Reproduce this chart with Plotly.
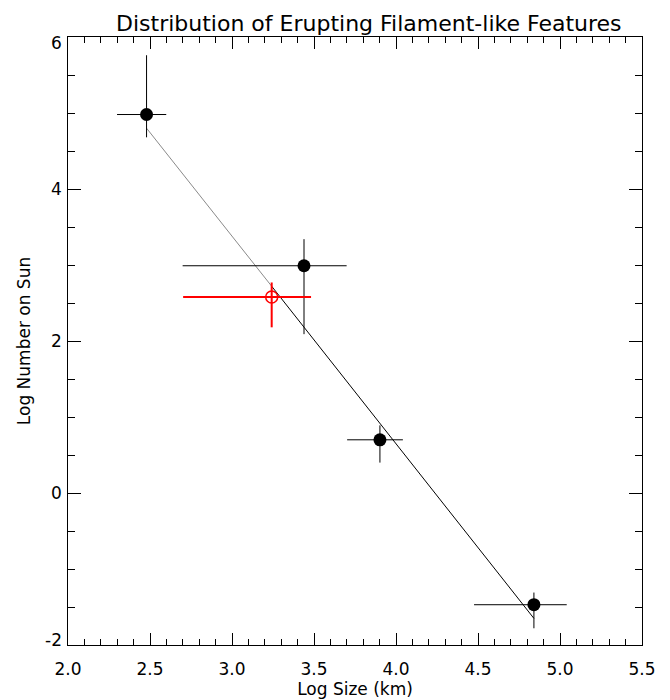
import plotly.graph_objects as go

# Data (log values)
size_x = [2.479, 3.439, 3.902, 4.841]
number_y = [4.98, 2.99, 0.70, -1.47]
xerr_plus = [0.12, 0.26, 0.14, 0.20]
xerr_minus = [0.18, 0.74, 0.20, 0.365]
yerr_plus = [0.78, 0.35, 0.19, 0.16]
yerr_minus = [0.30, 0.90, 0.30, 0.31]

red_x = [3.242]
red_y = [2.58]
red_xerr_plus = [0.24]
red_xerr_minus = [0.54]
red_yerr_plus = [0.19]
red_yerr_minus = [0.40]

fit_gray_x = [2.479, 3.242]
fit_gray_y = [4.80, 2.72]
fit_black_x = [3.242, 4.841]
fit_black_y = [2.72, -1.65]

x_ticks = [2.0, 2.5, 3.0, 3.5, 4.0, 4.5, 5.0, 5.5]
x_tick_labels = ["2.0", "2.5", "3.0", "3.5", "4.0", "4.5", "5.0", "5.5"]
y_ticks = [-2, 0, 2, 4, 6]
y_tick_labels = ["-2", "0", "2", "4", "6"]

FONT = "DejaVu Sans, Liberation Sans, Arial, sans-serif"

fig = go.Figure()

fig.add_trace(go.Scatter(x=fit_gray_x, y=fit_gray_y, mode="lines",
                         line=dict(color="#8a8a8a", width=1), hoverinfo="skip", showlegend=False))
fig.add_trace(go.Scatter(x=fit_black_x, y=fit_black_y, mode="lines",
                         line=dict(color="black", width=1), hoverinfo="skip", showlegend=False))

fig.add_trace(go.Scatter(
    x=size_x, y=number_y, mode="markers",
    marker=dict(color="black", size=13, line=dict(width=0)),
    error_x=dict(type="data", symmetric=False, array=xerr_plus, arrayminus=xerr_minus,
                 color="black", thickness=1, width=0),
    error_y=dict(type="data", symmetric=False, array=yerr_plus, arrayminus=yerr_minus,
                 color="black", thickness=1, width=0),
    showlegend=False))

fig.add_trace(go.Scatter(
    x=red_x, y=red_y, mode="markers",
    marker=dict(symbol="circle-open", color="red", size=12, line=dict(width=1.5, color="red")),
    error_x=dict(type="data", symmetric=False, array=red_xerr_plus, arrayminus=red_xerr_minus,
                 color="red", thickness=2, width=0),
    error_y=dict(type="data", symmetric=False, array=red_yerr_plus, arrayminus=red_yerr_minus,
                 color="red", thickness=2, width=0),
    showlegend=False))

# y tick labels as text, end labels nudged inward like the reference
annotations = []
for v, lab in zip(y_ticks, y_tick_labels):
    shift = 0
    if v == max(y_ticks):
        shift = -6
    elif v == min(y_ticks):
        shift = 5
    annotations.append(dict(x=0, xref="paper", y=v, yref="y", text=lab, showarrow=False,
                            xanchor="right", yanchor="middle", xshift=-4, yshift=shift,
                            font=dict(family=FONT, size=17, color="black")))

# title as a paper-anchored annotation just above the frame
annotations.append(dict(x=0.525, xref="paper", y=1, yref="paper", yshift=0, borderpad=0,
                        text="Distribution of Erupting Filament-like Features",
                        showarrow=False, xanchor="center", yanchor="bottom",
                        font=dict(family=FONT, size=22, color="black")))

# the page body adds an 8px margin, so the figure is 662x692 and margins are shifted
fig.update_layout(
    width=662, height=692,
    margin=dict(l=60, r=28, t=29, b=55, autoexpand=False),
    paper_bgcolor="white", plot_bgcolor="white",
    font=dict(family=FONT, color="black", size=17),
    annotations=annotations,
    xaxis=dict(range=[2.0, 5.5], tickvals=x_ticks, ticktext=x_tick_labels, automargin=False,
               ticks="inside", ticklen=12, tickwidth=1, tickcolor="black", ticklabelstandoff=9,
               minor=dict(dtick=0.1, tick0=2.0, ticks="inside", ticklen=6, tickwidth=1, tickcolor="black"),
               showline=True, linecolor="black", linewidth=1, mirror="allticks",
               showgrid=False, zeroline=False,
               tickfont=dict(family=FONT, size=17, color="black"),
               title=dict(text="Log Size (km)", standoff=0, font=dict(family=FONT, size=17, color="black"))),
    yaxis=dict(range=[-2, 6], tickvals=y_ticks, showticklabels=False, automargin=False,
               ticks="inside", ticklen=13, tickwidth=1, tickcolor="black",
               minor=dict(dtick=0.5, tick0=0, ticks="inside", ticklen=7, tickwidth=1, tickcolor="black"),
               showline=True, linecolor="black", linewidth=1, mirror="allticks",
               showgrid=False, zeroline=False,
               title=dict(text="Log Number on Sun", standoff=32, font=dict(family=FONT, size=17, color="black"))),
)

fig.write_html("out.html")
